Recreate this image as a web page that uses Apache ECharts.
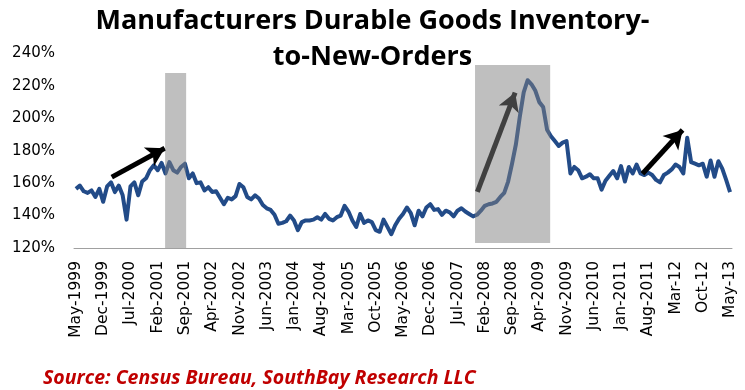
<!DOCTYPE html>
<html>
<head>
<meta charset="utf-8">
<script src="https://cdn.jsdelivr.net/npm/echarts@6/dist/echarts.min.js"></script>
<style>
html,body{margin:0;padding:0;background:#fff;}
#chart{width:745px;height:390px;}
</style>
</head>
<body>
<div id="chart"></div>
<script>
// Month names used to build the category labels (May-1999 .. May-2013)
const monthNames = ['Jan','Feb','Mar','Apr','May','Jun','Jul','Aug','Sep','Oct','Nov','Dec'];
const startYear = 1999, startMonth = 4, monthCount = 169;

// Inventory-to-new-orders ratio, %, monthly
const ratioValues = [
  156.5,158.5,155,154,155.5,151.5,156.5,148.5,158,160.5,
  154.5,158.5,152.5,137.5,158,160.5,152.5,161,163,168,
  171,168,172.5,166,173,168,166.5,170,172,163,
  166,160,160.5,155.5,157.5,154.5,155,151,147,151,
  150,152,159.5,157.5,151.5,150,152.5,150.5,146.5,144.5,
  143.5,140.5,135,135.5,136.5,140,137,131,136,137,
  137,137.5,139,137.5,141,138,137,139,140,146,
  142.5,137,133,141,135.5,137,136,131,130,137.5,
  133,128.5,134,138,141,145,141.5,134,143,139.5,
  145,147,143.5,144,140.5,143,142,139.5,143,144.5,
  142.5,141,139.5,140.5,143,146,147,147.5,148.5,151.5,
  154,161,172,184,201,216,223.5,221,217,210,
  207,193,189,186,183,185,186,166,170,168,
  163,164,165.5,163,163,156,161.5,164.5,167.5,163,
  170.5,161,170,166,171.5,166,165,166.5,165,162,
  160.5,165,166.5,168.5,171.5,170,166,188,173,172,
  171,172,164,174,164,173.5,169,162,154.5
];

// Y-axis ticks
const yMin = 120, yMax = 240, yStep = 20;

// Shaded periods: [startIndex, endIndex, top%, bottom%]
const shadeA = [22.9, 28.3, 228, 120];
const shadeB = [102.5, 121.8, 232.9, 123.1];

// Annotation arrows: [fromIndex, fromValue, toIndex, toValue]
const arrowA = [9.2, 163.7, 22.8, 181.5];
const arrowB = [103.1, 154.6, 112.8, 215.9];
const arrowC = [145.5, 165.8, 155.8, 192.8];

const categories = [];
for (let k = 0; k < monthCount; k++) {
  const m = (startMonth + k) % 12;
  const y = startYear + Math.floor((startMonth + k) / 12);
  const ys = y >= 2012 ? String(y).slice(2) : String(y);
  categories.push(monthNames[m] + '-' + ys);
}

const chart = echarts.init(document.getElementById('chart'), null, {renderer: 'canvas'});

function arrowItem(a) {
  return [{coord: [a[0], a[1]]}, {coord: [a[2], a[3]]}];
}
function shadeItem(s) {
  return [{coord: [s[0], s[2]]}, {coord: [s[1], s[3]]}];
}

chart.setOption({
  animation: false,
  backgroundColor: '#ffffff',
  title: [
    {
      text: 'Manufacturers Durable Goods Inventory-\nto-New-Orders',
      left: 'center',
      top: -2,
      textStyle: {
        fontFamily: 'Open Sans',
        fontWeight: 'bold',
        fontSize: 27,
        color: '#000000',
        lineHeight: 36
      }
    },
    {
      text: 'Source: Census Bureau, SouthBay Research LLC',
      left: 38,
      top: 363,
      textStyle: {
        fontFamily: 'Open Sans',
        fontStyle: 'italic',
        fontWeight: 'bold',
        fontSize: 19.5,
        color: '#c00000'
      }
    }
  ],
  grid: {left: 74, right: 13, top: 53.5, bottom: 142, containLabel: false},
  xAxis: [
    {
      type: 'category',
      data: categories,
      boundaryGap: true,
      axisTick: {show: false},
      axisLine: {lineStyle: {color: '#a0a0a0', width: 1}},
      axisLabel: {
        interval: 6,
        rotate: 90,
        margin: 13,
        fontFamily: 'DejaVu Sans',
        fontSize: 15.5,
        color: '#000000'
      },
      splitLine: {show: false}
    },
    {
      type: 'value',
      min: -0.5,
      max: monthCount - 0.5,
      show: false,
      splitLine: {show: false}
    }
  ],
  yAxis: {
    type: 'value',
    min: yMin,
    max: yMax,
    interval: yStep,
    axisLine: {show: false},
    axisTick: {show: false},
    splitLine: {show: false},
    axisLabel: {
      formatter: '{value}%',
      margin: 19,
      fontFamily: 'DejaVu Sans',
      fontSize: 15,
      color: '#000000'
    }
  },
  series: [
    {
      type: 'line',
      name: 'ratio',
      data: ratioValues,
      xAxisIndex: 0,
      showSymbol: false,
      symbol: 'none',
      lineStyle: {color: '#224b88', width: 4, join: 'round'},
      z: 2
    },
    {
      type: 'line',
      name: 'arrows',
      xAxisIndex: 1,
      data: [],
      z: 3,
      markLine: {
        silent: true,
        animation: false,
        z: 3,
        symbol: ['none', 'arrow'],
        symbolSize: [16, 18],
        label: {show: false},
        lineStyle: {color: '#000000', width: 5, type: 'solid'},
        data: [arrowItem(arrowA), arrowItem(arrowB), arrowItem(arrowC)]
      }
    },
    {
      type: 'line',
      name: 'shade',
      xAxisIndex: 1,
      data: [],
      z: 10,
      markArea: {
        silent: true,
        animation: false,
        z: 10,
        itemStyle: {color: 'rgba(128,128,128,0.5)'},
        data: [shadeItem(shadeA), shadeItem(shadeB)]
      }
    }
  ]
});
</script>
</body>
</html>
